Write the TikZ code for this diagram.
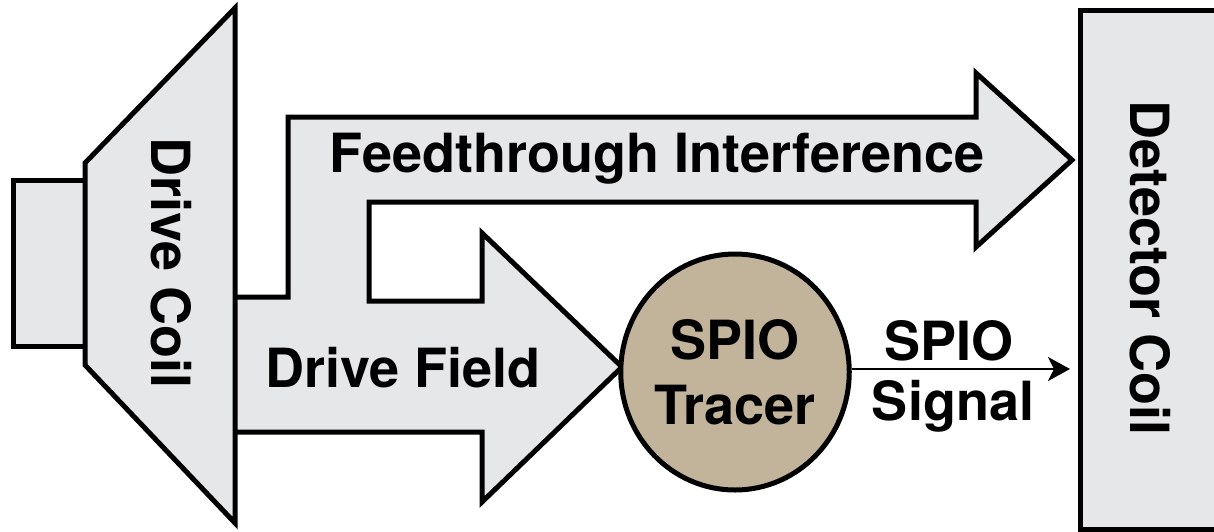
\documentclass[tikz,border=0pt]{standalone}
\usepackage{fontspec}
\setmainfont{TeX Gyre Heros}
\usetikzlibrary{shapes.geometric,arrows.meta}
\definecolor{lgray}{HTML}{E6E7E9}
\definecolor{tan}{HTML}{C2B39B}
\tikzset{
  outline/.style={draw=black, line width=5pt, line join=miter, fill=lgray},
  lbl/.style={font=\bfseries\fontsize{54}{64}\selectfont, inner sep=0pt},
}
\begin{document}
\begin{tikzpicture}[x=1pt,y=-1pt]
\useasboundingbox (0,0) rectangle (1214,531);
\clip (0,0) rectangle (1214,531);
% detector coil
\node[outline, rectangle, minimum width=160pt, minimum height=519pt, anchor=north west, inner sep=0pt] (det) at (1078,8) {};
\node[lbl, rotate=-90] (detlbl) at (1150,268) {Detector Coil};
% combined arrows
\path[fill=lgray] (235,297) -- (288,297) -- (288,117) -- (976,117) -- (976,73) -- (1072,160) -- (976,247) -- (976,202) -- (369,202) -- (369,301) -- (482,301) -- (482,233) -- (622,367) -- (482,502) -- (482,432) -- (235,432) -- cycle;
\draw[line width=5pt, line join=miter] (235,297) -- (288,297) -- (288,117) -- (976,117) -- (976,73) -- (1072,160) -- (976,247) -- (976,202) -- (369,202) -- (369,301) -- (482,301) -- (482,233) -- (622,367) -- (482,502) -- (482,432) -- (235,432);
\node[lbl] (ft) at (657,159) {Feedthrough Interference};
\node[lbl] (df) at (403,368) {Drive Field};
% drive coil
\draw[outline] (13,180) rectangle (85,346);
\draw[outline] (235,8) -- (85,163) -- (85,365) -- (235,523) -- cycle;
\node[lbl, rotate=-90] (dclbl) at (171,263) {Drive Coil};
% tracer
\node[ellipse, draw=black, line width=5pt, fill=tan, minimum width=220pt, minimum height=236pt, inner sep=0pt, align=center, font=\bfseries\fontsize{54}{65}\selectfont] (tracer) at (735,372) {SPIO\\Tracer};
\coordinate (sigend) at (1070,369);
\draw[line width=2.2pt, -{Stealth[length=22pt,width=24pt,inset=6pt]}] (tracer.east |- sigend) -- (sigend);
\node[lbl] (sig1) at (949,341) {SPIO};
\node[lbl, anchor=base] (sig2) at (953,420) {Signal};
\end{tikzpicture}
\end{document}
